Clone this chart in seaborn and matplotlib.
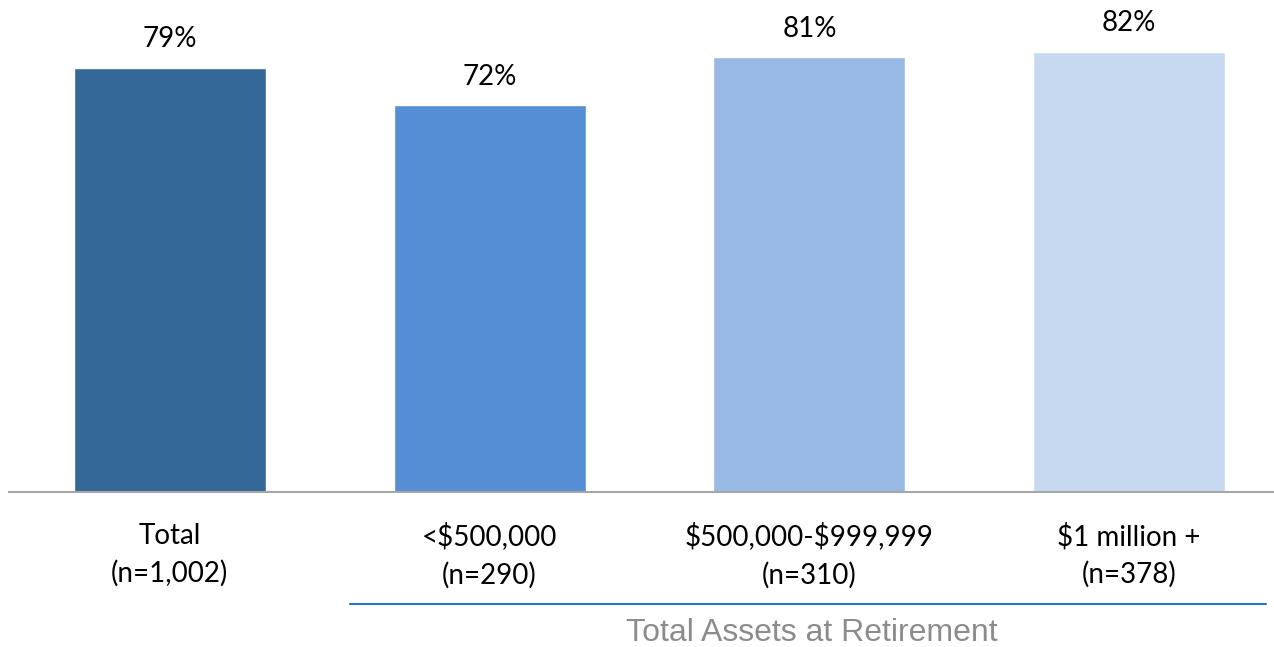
import pandas as pd
import seaborn as sns
import matplotlib.pyplot as plt
from matplotlib.lines import Line2D

# -------------------------------
# Data
# -------------------------------
categories = ["Total\n(n=1,002)", "<$500,000\n(n=290)",
              "$500,000-$999,999\n(n=310)", "$1 million +\n(n=378)"]
values = [79, 72, 81, 82]
bar_colors = ["#346899", "#558ed5", "#98b9e3", "#c6d9f0"]
group_title = "Total Assets at Retirement"

df = pd.DataFrame({"category": categories, "pct": values})

# -------------------------------
# Plot
# -------------------------------
sns.set_style("white")
plt.rcParams["font.family"] = ["Lato", "DejaVu Sans"]

fig = plt.figure(figsize=(12.74, 6.47), dpi=100)
ax = fig.add_axes([9 / 1274, (647 - 492) / 647, 1265 / 1274, 492 / 647])

sns.barplot(data=df, x="category", y="pct", hue="category",
            palette=bar_colors, width=0.6, legend=False, ax=ax,
            saturation=1)

ax.set_xlim(-0.503, 3.453)
ax.set_ylim(0, 91.6)

for cont in ax.containers:
    ax.bar_label(cont, fmt="%d%%", padding=11, fontsize=20, color="black")

ax.set_yticks([])
ax.set_xlabel("")
ax.set_ylabel("")
ax.set_xticks(range(len(categories)))
ax.set_xticklabels(categories, parse_math=False, linespacing=1.5)
ax.tick_params(axis="x", length=0, pad=22, labelsize=20, colors="black")

for side in ["top", "right", "left"]:
    ax.spines[side].set_visible(False)
ax.spines["bottom"].set_color("#a6a6a6")
ax.spines["bottom"].set_linewidth(1.5)

# group bracket line and title
fig.add_artist(Line2D([350 / 1274, 1266 / 1274], [1 - 604 / 647, 1 - 604 / 647],
                      color="#2a72c4", linewidth=1.5))
fig.text(812 / 1274, 1 - 633 / 647, group_title, ha="center", va="center",
         fontsize=23, color="#8c8c8c", family=["Liberation Sans", "DejaVu Sans"])

plt.savefig("out.png", dpi=100)
plt.close()
